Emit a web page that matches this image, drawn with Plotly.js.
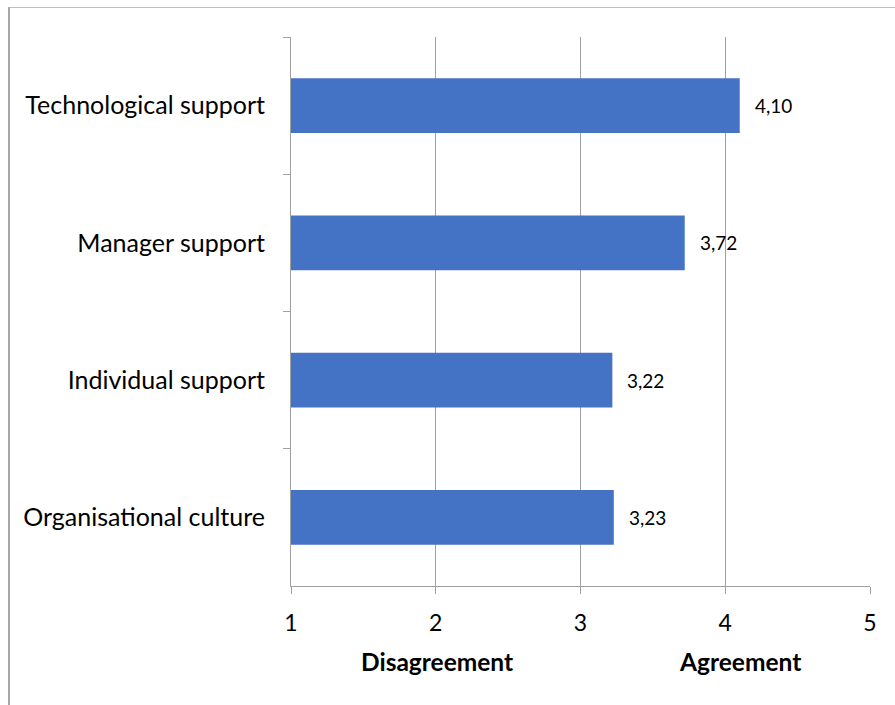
<!DOCTYPE html>
<html>
<head>
<meta charset="utf-8">
<script src="https://cdn.plot.ly/plotly-3.0.1.min.js"></script>
<style>
  html, body { margin: 0; padding: 0; background: #fff; }
  #wrap { position: relative; width: 895px; height: 705px; overflow: hidden; }
  #chart { width: 895px; height: 705px; }
  #frame { position: absolute; left: 8px; top: 7px; width: 900px; height: 710px;
           border-left: 2px solid #a6a6a6; border-top: 1px solid #bfbfbf; pointer-events: none; }
</style>
</head>
<body>
<div id="wrap">
  <div id="chart"></div>
  <div id="frame"></div>
</div>
<script>
const categories = ["Technological support", "Manager support", "Individual support", "Organisational culture"];
const values = [4.10, 3.72, 3.22, 3.23];
const xTicks = [1, 2, 3, 4, 5];
const axisLabels = ["Disagreement", "Agreement"];
const axisLabelPos = [2.01, 4.1];

const fontFam = "Lato, 'Noto Sans', sans-serif";
const fmt = v => v.toFixed(2).replace('.', ',');

const trace = {
  type: 'bar',
  orientation: 'h',
  x: values.map(v => v - 1),
  y: categories,
  base: 1,
  marker: { color: '#4472C4' },
  hoverinfo: 'none'
};

const annotations = values.map((v, i) => ({
  x: v, y: categories[i], xref: 'x', yref: 'y',
  text: fmt(v), showarrow: false, xanchor: 'left', xshift: 13,
  font: { family: fontFam, size: 19, color: '#000' }
}));
axisLabels.forEach((t, i) => annotations.push({
  x: axisLabelPos[i], y: -0.138, xref: 'x', yref: 'paper',
  text: '<b>' + t + '</b>', showarrow: false, xanchor: 'center', yanchor: 'middle',
  font: { family: fontFam, size: 24.5, color: '#000' }
}));

const layout = {
  width: 895, height: 705,
  margin: { l: 291, r: 25, t: 37, b: 119, pad: 0 },
  paper_bgcolor: '#fff', plot_bgcolor: '#fff',
  bargap: 0.6,
  showlegend: false,
  font: { family: fontFam, color: '#000' },
  xaxis: {
    range: [1, 5], tickvals: xTicks, ticktext: xTicks.map(String),
    showgrid: true, gridcolor: '#a0a0a0', gridwidth: 1,
    zeroline: false, showline: true, linecolor: '#a0a0a0', linewidth: 1,
    ticks: 'outside', ticklen: 7, tickcolor: '#a0a0a0',
    ticklabelstandoff: 9,
    tickfont: { family: fontFam, size: 23, color: '#000' },
    fixedrange: true
  },
  yaxis: {
    type: 'category', autorange: 'reversed',
    categoryorder: 'array', categoryarray: categories,
    showgrid: false, zeroline: false, showline: true, linecolor: '#a0a0a0', linewidth: 1,
    ticks: 'outside', ticklen: 7, tickcolor: '#a0a0a0', tickson: 'boundaries',
    ticklabelstandoff: 20,
    tickfont: { family: fontFam, size: 25, color: '#000' },
    fixedrange: true
  },
  annotations: annotations
};

Plotly.newPlot('chart', [trace], layout, { displayModeBar: false, staticPlot: true });
</script>
</body>
</html>
